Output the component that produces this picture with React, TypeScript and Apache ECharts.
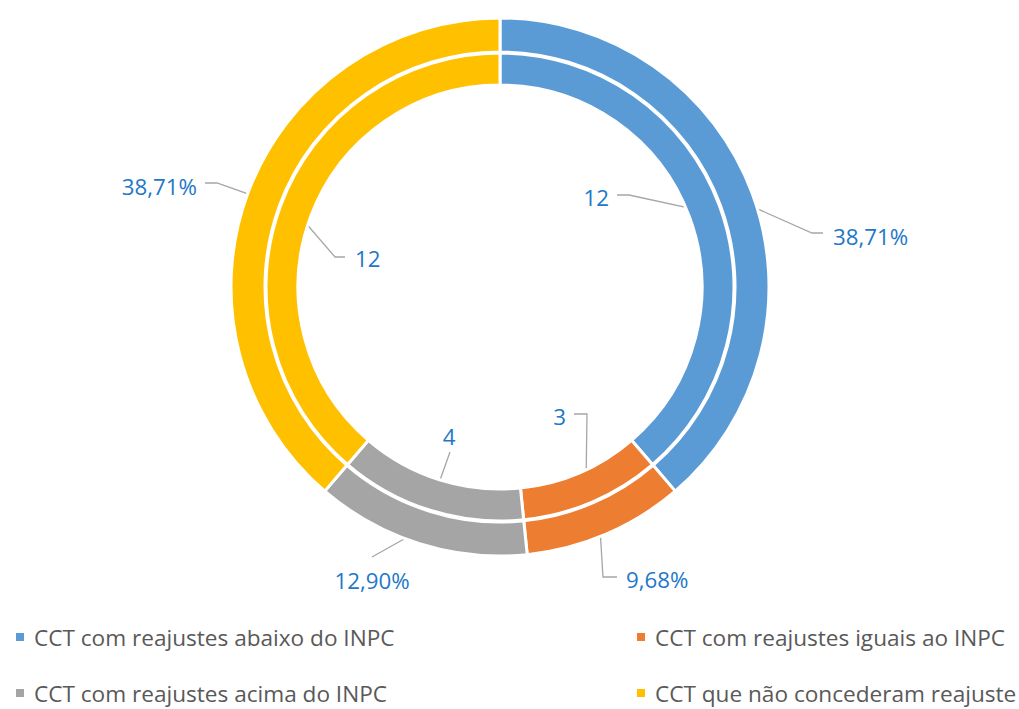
import React, { useEffect, useRef } from "react";
import * as echarts from "echarts";

const categories = [
  "CCT com reajustes abaixo do INPC",
  "CCT com reajustes iguais ao INPC",
  "CCT com reajustes acima do INPC",
  "CCT que não concederam reajuste",
];
const counts = [12, 3, 4, 12];
const colors = ["#5b9bd5", "#ed7d31", "#a5a5a5", "#ffc000"];

// label layout (positions only): [labelX, labelY, align, elbowX, elbowY, endX, endY]
const innerLabelLayout: [number, number, string, number, number, number, number][] = [
  [609, 197, "right", 629, 195, 617, 195],
  [566, 416, "right", 587, 414, 574, 414],
  [449, 436, "center", 450, 452, 450, 452],
  [355, 258, "left", 335, 257, 345, 257],
];
const outerLabelLayout: [number, number, string, number, number, number, number][] = [
  [833, 236, "left", 812, 233, 823, 233],
  [626, 579, "left", 603, 577, 617, 577],
  [372, 580, "center", 372, 557, 372, 557],
  [197, 186, "right", 217, 183, 205, 183],
];
// legend slots (positions only): [left, top]
const legendSlots: [number, number][] = [
  [14, 625],
  [635, 625],
  [14, 681],
  [635, 681],
];

const CX = 500;
const CY = 287;
const INNER_R: [number, number] = [202, 234];
const OUTER_R: [number, number] = [235, 269];

const total = counts.reduce((a, b) => a + b, 0);
const midAngles = counts.map((v, i) => {
  const before = counts.slice(0, i).reduce((a, b) => a + b, 0);
  return ((90 - ((before + v / 2) / total) * 360) * Math.PI) / 180;
});

function makeLayout(layout: typeof innerLabelLayout, rMid: number) {
  return (params: any) => {
    const i = params.dataIndex;
    const L = layout[i];
    const a = midAngles[i];
    const ax = CX + rMid * Math.cos(a);
    const ay = CY - rMid * Math.sin(a);
    return {
      x: L[0],
      y: L[1],
      align: L[2],
      verticalAlign: "middle",
      labelLinePoints: [
        [ax, ay],
        [L[3], L[4]],
        [L[5], L[6]],
      ],
    };
  };
}

const FONT = "'Open Sans', 'Noto Sans', sans-serif";

export default function App() {
  const ref = useRef<HTMLDivElement>(null);
  useEffect(() => {
    if (!ref.current) return;
    const chart = echarts.init(ref.current, undefined, { renderer: "svg" });
    const data = categories.map((name, i) => ({
      name,
      value: counts[i],
      itemStyle: { color: colors[i] },
    }));
    const labelCommon = {
      show: true,
      position: "outside",
      color: "#1e78c8",
      fontSize: 22.3,
      fontFamily: FONT,
    };
    const lineCommon = {
      show: true,
      lineStyle: { color: "#a6a6a6", width: 1.3 },
    };
    const legends = categories.map((name, i) => ({
      orient: "horizontal",
      icon: "rect",
      itemWidth: 10,
      itemHeight: 10,
      padding: 0,
      left: legendSlots[i][0],
      top: legendSlots[i][1],
      data: [name],
      selectedMode: false,
      textStyle: {
        color: "#595959",
        fontSize: 22.6,
        lineHeight: 24,
        fontFamily: FONT,
        padding: [0, 0, 0, 4],
      },
    }));
    chart.setOption({
      animation: false,
      backgroundColor: "#ffffff",
      legend: legends,
      series: [
        {
          type: "pie",
          center: [CX, CY],
          radius: INNER_R,
          startAngle: 90,
          clockwise: true,
          avoidLabelOverlap: false,
          itemStyle: { borderColor: "#ffffff", borderWidth: 3 },
          label: { ...labelCommon, formatter: (p: any) => String(p.value) },
          labelLine: lineCommon,
          labelLayout: makeLayout(innerLabelLayout, (INNER_R[0] + INNER_R[1]) / 2),
          emphasis: { disabled: true },
          data,
        },
        {
          type: "pie",
          center: [CX, CY],
          radius: OUTER_R,
          startAngle: 90,
          clockwise: true,
          avoidLabelOverlap: false,
          itemStyle: { borderColor: "#ffffff", borderWidth: 3 },
          label: {
            ...labelCommon,
            formatter: (p: any) => ((p.value / total) * 100).toFixed(2).replace(".", ",") + "%",
          },
          labelLine: lineCommon,
          labelLayout: makeLayout(outerLabelLayout, (OUTER_R[0] + OUTER_R[1]) / 2),
          emphasis: { disabled: true },
          data,
        },
      ],
    });
    return () => chart.dispose();
  }, []);
  return (
    <div
      ref={ref}
      style={{ position: "fixed", left: 0, top: 0, width: 1019, height: 709 }}
    />
  );
}
